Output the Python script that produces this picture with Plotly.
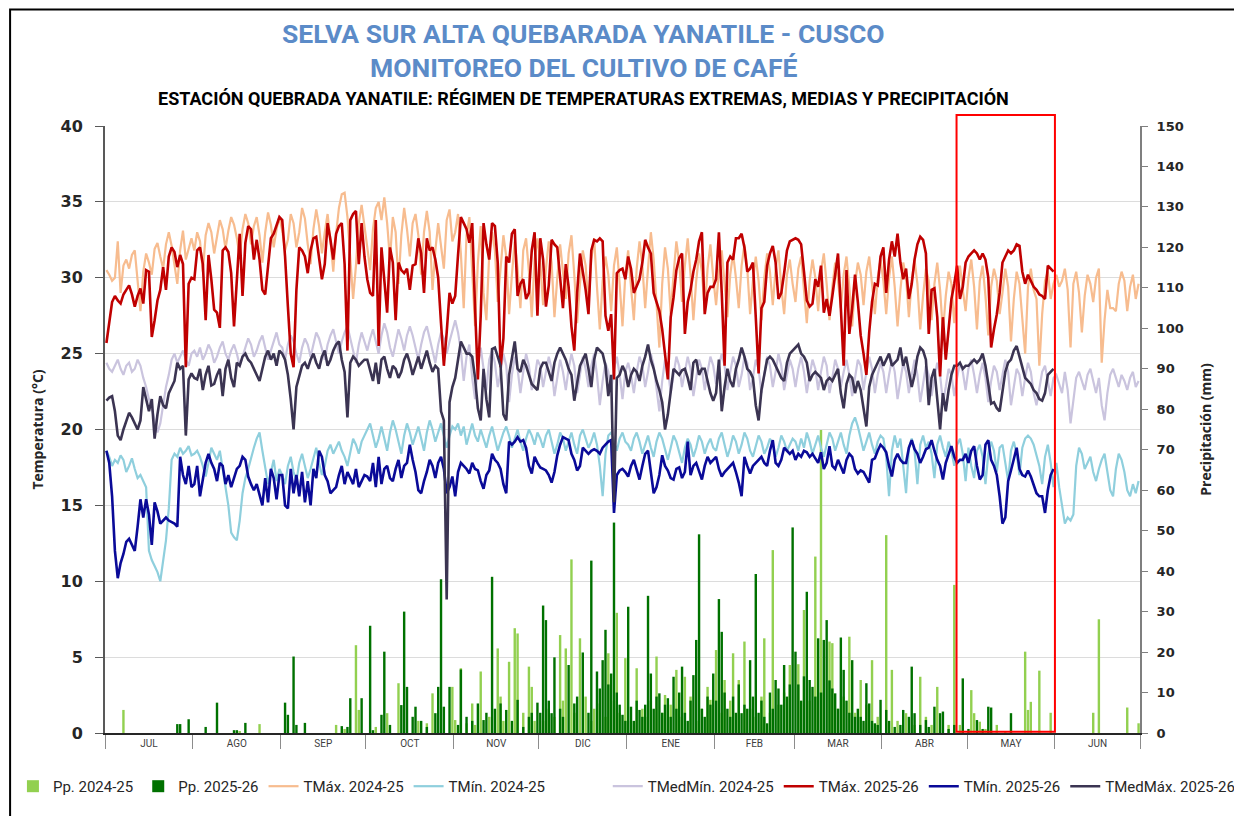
import plotly.graph_objects as go

MESES = ["JUL", "AGO", "SEP", "OCT", "NOV", "DIC", "ENE", "FEB", "MAR", "ABR", "MAY", "JUN"]
DIAS_MES = [31, 31, 30, 31, 30, 31, 31, 28, 31, 30, 31, 30]

# temperaturas diarias campaña 2024-25 (jul -> jun)
TMAX_2425 = [
    30.5, 30.2, 29.8, 30.0, 32.4, 29.0, 30.8, 31.2, 30.6, 31.5, 31.8, 29.7, 27.8, 30.4, 31.6, 31.0, 30.2, 31.9, 32.3, 31.4, 30.6, 32.2, 33.0, 32.1, 30.9, 29.6, 31.8, 33.1, 31.2, 32.0, 32.6,
    31.8, 33.0, 32.4, 30.4, 32.8, 33.6, 33.0, 31.6, 32.7, 33.8, 33.2, 31.9, 33.1, 34.0, 33.5, 32.6, 31.4, 33.2, 34.2, 33.6, 32.2, 33.4, 34.0, 32.8, 31.0, 33.0, 34.3, 33.5, 32.0, 33.2, 34.0,
    33.1, 31.8, 32.5, 34.2, 33.6, 32.0, 33.0, 34.6, 33.9, 32.2, 30.9, 33.2, 34.5, 33.4, 31.6, 33.0, 34.2, 32.5, 30.4, 32.9, 34.6, 35.5, 35.6, 34.0, 31.2, 28.6, 30.8, 33.6, 34.8, 33.2,
    32.0, 30.5, 33.2, 34.6, 35.0, 33.8, 35.3, 33.6, 31.2, 34.0, 33.0, 29.6, 32.8, 34.6, 33.2, 31.4, 33.6, 34.2, 32.8, 30.2, 33.0, 34.4, 33.0, 29.2, 31.8, 33.6, 32.0, 30.6, 33.8, 34.5, 32.4,
    33.0, 34.2, 31.6, 28.0, 32.8, 34.0, 30.2, 26.8, 31.0, 33.4, 29.0, 27.2, 31.6, 33.0, 31.8, 28.4, 30.6, 32.8, 31.4, 27.6, 30.2, 32.4, 30.6, 28.0, 31.8, 32.6, 30.4, 27.4, 31.2, 32.6,
    31.0, 28.2, 30.6, 32.4, 31.0, 27.4, 30.0, 32.2, 30.4, 28.6, 31.6, 32.8, 30.2, 27.0, 29.6, 31.8, 30.8, 28.2, 31.2, 32.6, 29.4, 26.6, 29.8, 31.4, 30.2, 27.8, 30.8, 32.0, 29.6, 26.8, 30.2,
    31.8, 29.4, 27.2, 30.6, 32.4, 30.8, 28.0, 30.6, 33.0, 31.2, 28.4, 25.4, 29.6, 32.0, 30.6, 27.6, 30.2, 32.4, 31.0, 28.4, 30.8, 32.6, 30.2, 27.2, 29.8, 31.6, 30.4, 27.8, 30.6, 32.2, 30.0,
    28.2, 30.4, 31.8, 29.6, 27.4, 30.2, 31.6, 30.0, 28.0, 30.8, 32.2, 30.6, 27.6, 29.8, 31.4, 29.8, 27.2, 30.0, 31.6, 30.4, 28.2, 30.6, 31.8, 29.4, 27.6, 30.2, 31.2, 29.6,
    28.4, 30.6, 31.4, 29.2, 27.0, 29.8, 31.2, 30.0, 27.8, 30.4, 31.6, 29.6, 27.2, 29.4, 31.0, 29.8, 28.0, 30.2, 31.4, 29.4, 26.8, 29.6, 31.0, 30.2, 28.2, 30.4, 31.4, 29.6, 27.6, 30.0, 31.2,
    29.8, 27.6, 30.0, 31.4, 29.4, 26.8, 29.2, 31.0, 30.0, 27.4, 29.8, 31.2, 29.6, 26.6, 28.8, 30.6, 29.8, 27.2, 29.6, 31.0, 29.2, 26.4, 28.8, 30.4, 29.6, 27.0, 29.4, 30.8, 29.2, 27.8,
    30.0, 31.2, 29.4, 26.6, 29.8, 30.8, 28.8, 26.2, 29.4, 30.6, 29.8, 27.6, 29.0, 30.6, 29.4, 25.8, 28.6, 30.4, 29.6, 27.4, 25.0, 29.4, 30.6, 29.2, 28.6, 24.2, 27.6, 29.8, 30.4, 28.6, 29.6,
    30.2, 29.4, 29.8, 30.6, 29.2, 25.4, 29.6, 30.4, 29.0, 26.4, 28.8, 30.2, 29.6, 28.4, 30.0, 30.6, 24.4, 27.2, 29.2, 28.0, 28.0, 27.8, 29.6, 30.4, 29.8, 27.8, 29.4, 30.2, 28.6, 29.6,
]
TMIN_2425 = [
    18.6, 18.2, 17.6, 18.0, 17.8, 18.3, 18.0, 17.2, 17.6, 18.1, 17.4, 16.8, 17.0, 16.6, 16.2, 12.0, 11.4, 11.0, 10.6, 10.0, 11.4, 12.7, 14.8, 18.0, 18.4, 18.2, 18.8, 18.4, 18.6, 18.9, 18.3,
    18.4, 18.6, 18.2, 17.6, 16.9, 17.8, 18.8, 18.4, 18.0, 18.6, 17.4, 16.2, 15.0, 13.2, 12.9, 12.7, 14.0, 15.8, 16.8, 17.4, 18.2, 18.8, 19.4, 19.8, 18.6, 17.6, 16.4, 17.2, 18.0, 16.6, 17.4,
    17.0, 16.4, 17.6, 18.2, 17.2, 16.6, 17.8, 18.4, 17.6, 16.8, 17.4, 18.2, 18.8, 17.8, 17.0, 17.6, 18.6, 19.0, 18.4, 18.8, 19.2, 18.6, 18.2, 17.6, 18.6, 19.4, 19.0, 18.4, 19.2, 19.6,
    20.0, 20.4, 19.6, 18.8, 19.4, 20.2, 19.4, 18.6, 19.8, 20.6, 20.0, 19.2, 18.4, 19.6, 20.4, 19.8, 19.0, 19.6, 20.2, 19.4, 18.6, 19.8, 20.6, 20.0, 19.2, 19.8, 20.4, 19.6, 18.8, 19.6, 20.2,
    20.0, 20.4, 19.6, 20.2, 19.0, 19.8, 20.4, 19.6, 19.2, 20.0, 19.4, 18.8, 19.6, 20.2, 19.4, 18.6, 19.2, 19.8, 20.2, 19.6, 18.8, 19.4, 20.0, 19.2, 18.6, 19.4, 20.0, 19.6, 19.0, 19.8,
    19.4, 18.8, 19.6, 20.0, 19.2, 18.4, 19.0, 19.8, 19.4, 18.6, 19.2, 19.8, 19.0, 18.4, 19.6, 20.0, 19.4, 18.8, 19.2, 19.8, 19.0, 17.6, 15.6, 18.4, 19.6, 19.8, 19.2, 18.6, 19.4, 19.8, 19.2,
    19.0, 18.6, 19.4, 19.8, 19.2, 18.4, 19.0, 19.6, 18.8, 18.2, 19.2, 19.8, 19.4, 18.6, 18.0, 18.8, 19.6, 19.2, 18.4, 17.8, 18.8, 19.4, 19.0, 18.2, 18.8, 19.6, 19.2, 18.4, 19.0, 19.4, 18.8,
    18.6, 19.4, 19.8, 19.0, 18.2, 18.8, 19.6, 19.2, 18.4, 19.0, 19.8, 19.4, 18.6, 18.2, 19.0, 19.6, 19.2, 18.4, 18.8, 19.4, 19.0, 18.2, 18.8, 19.6, 19.2, 18.6, 19.0, 19.4,
    19.2, 18.6, 19.4, 18.8, 19.8, 19.2, 18.4, 19.0, 19.6, 18.8, 18.2, 19.0, 19.8, 19.4, 18.6, 19.2, 19.8, 19.0, 18.4, 19.6, 20.4, 20.8, 20.2, 19.4, 18.6, 19.2, 19.8, 19.0, 18.4, 19.2, 19.6,
    19.4, 18.2, 15.6, 18.6, 19.6, 18.8, 19.4, 17.8, 15.8, 18.8, 19.4, 18.6, 16.4, 19.0, 19.6, 18.8, 19.2, 18.4, 16.8, 19.0, 19.6, 18.8, 18.2, 19.2, 18.6, 17.6, 19.0, 19.4, 18.4, 16.6,
    18.8, 17.6, 16.8, 18.6, 19.0, 18.2, 16.4, 18.4, 19.2, 18.6, 17.2, 18.8, 19.0, 17.8, 16.6, 18.6, 19.2, 18.4, 17.0, 18.8, 19.4, 19.6, 19.4, 19.0, 18.2, 17.6, 16.4, 18.2, 19.0, 17.8, 16.2,
    17.8, 16.2, 15.0, 13.8, 14.2, 14.0, 14.4, 17.6, 18.8, 18.4, 17.4, 17.8, 18.2, 17.2, 16.6, 17.4, 18.0, 18.4, 17.2, 16.0, 15.6, 17.4, 18.4, 18.0, 17.2, 16.0, 15.6, 16.4, 15.8, 16.6,
]
TMEDMIN_2425 = [
    24.4, 24.0, 23.8, 24.2, 24.6, 24.0, 23.6, 24.2, 24.4, 23.8, 24.0, 24.6, 24.2, 23.4, 22.8, 22.0, 21.4, 20.6, 19.8, 20.4, 21.6, 22.8, 23.6, 24.6, 25.0, 24.4, 24.8, 25.2, 24.6, 24.2, 25.0,
    25.2, 24.8, 25.4, 24.6, 25.0, 25.6, 25.2, 24.4, 24.8, 25.4, 25.8, 25.0, 24.6, 25.2, 25.6, 25.0, 24.2, 24.8, 25.4, 26.0, 25.6, 24.8, 25.2, 25.8, 26.2, 25.4, 24.6, 25.2, 25.8, 26.4, 25.6,
    25.4, 24.6, 25.6, 26.2, 25.8, 25.0, 24.4, 25.4, 26.0, 25.6, 24.8, 25.6, 26.4, 26.0, 25.2, 24.6, 25.6, 26.2, 26.6, 25.8, 25.0, 25.8, 26.4, 26.8, 26.0, 25.2, 24.4, 25.6, 26.4, 25.8,
    25.2, 26.0, 26.6, 25.8, 25.0, 26.2, 27.0, 26.4, 25.4, 24.8, 25.8, 26.6, 26.0, 25.2, 26.2, 26.8, 26.2, 25.4, 24.6, 25.6, 26.4, 26.8, 26.0, 25.2, 24.4, 25.6, 26.4, 26.0, 25.0, 25.8, 26.6,
    27.2, 26.4, 25.2, 23.2, 24.8, 25.6, 23.4, 22.0, 24.2, 25.4, 24.0, 22.6, 24.6, 25.2, 24.4, 22.8, 23.8, 25.0, 24.2, 21.8, 23.6, 24.8, 24.0, 22.4, 23.8, 25.0, 24.2, 22.6, 23.4, 24.6,
    24.2, 22.8, 23.8, 24.8, 24.0, 22.2, 23.4, 24.6, 23.8, 22.6, 24.0, 25.0, 24.2, 22.4, 23.6, 24.8, 24.0, 22.8, 24.2, 25.0, 23.6, 21.6, 23.2, 24.4, 23.8, 22.6, 24.0, 24.8, 23.6, 22.0, 23.8,
    24.4, 23.6, 22.4, 23.8, 24.8, 24.2, 22.8, 23.8, 25.0, 24.2, 22.6, 21.2, 23.2, 24.6, 24.0, 22.4, 23.6, 24.8, 24.2, 22.8, 23.8, 24.8, 24.0, 22.2, 23.4, 24.6, 24.0, 22.6, 23.8, 24.8, 24.2,
    23.0, 24.2, 25.0, 24.2, 22.6, 23.8, 24.8, 24.2, 22.8, 23.6, 24.8, 24.4, 22.6, 23.4, 24.6, 24.0, 22.4, 23.6, 24.8, 24.2, 22.8, 23.8, 25.0, 24.2, 22.6, 23.6, 24.6, 24.0,
    22.8, 24.0, 24.8, 23.8, 22.4, 23.6, 24.6, 24.0, 22.6, 23.8, 24.8, 24.2, 22.4, 23.4, 24.6, 24.0, 22.8, 23.8, 24.6, 23.6, 22.2, 23.4, 24.6, 24.2, 22.6, 23.8, 24.8, 24.0, 22.4, 23.6, 24.4,
    23.8, 22.4, 23.6, 24.6, 23.8, 22.0, 23.2, 24.4, 23.8, 22.4, 23.6, 24.6, 23.6, 21.8, 23.0, 24.2, 23.6, 22.2, 23.4, 24.4, 23.6, 21.8, 22.8, 24.0, 23.6, 22.2, 23.4, 24.4, 23.8, 22.6,
    24.0, 24.6, 23.6, 22.4, 23.6, 24.4, 23.4, 21.8, 23.2, 24.2, 23.8, 22.6, 23.6, 24.6, 23.8, 21.6, 22.8, 24.0, 23.6, 22.2, 23.4, 24.4, 23.8, 22.4, 21.6, 22.8, 23.8, 24.2, 23.2, 22.2, 23.4,
    23.6, 23.0, 22.4, 23.8, 22.6, 20.4, 21.8, 23.4, 23.8, 23.2, 22.6, 23.6, 24.0, 23.2, 22.4, 23.4, 21.6, 20.6, 22.4, 23.6, 24.0, 23.4, 22.8, 23.6, 23.2, 22.6, 23.4, 23.8, 22.8, 23.2,
]

# temperaturas diarias campaña 2025-26 (jul -> may)
TMAX_2526 = [
    25.7, 27.2, 28.4, 28.8, 28.5, 28.3, 28.9, 29.2, 29.5, 28.9, 28.1, 28.8, 29.3, 28.3, 30.5, 30.4, 26.1, 27.2, 28.5, 29.2, 30.7, 29.2, 31.4, 32.0, 31.7, 30.7, 31.5, 30.9, 24.1, 29.6, 30.0,
    29.9, 31.8, 32.0, 30.9, 27.2, 31.5, 29.9, 27.9, 27.7, 26.7, 31.8, 32.0, 31.7, 30.3, 26.8, 29.9, 32.9, 28.8, 32.3, 33.4, 33.2, 31.2, 32.5, 31.2, 29.2, 28.9, 30.9, 32.6, 32.9, 33.4, 34.0,
    33.8, 31.4, 28.1, 25.0, 24.1, 29.2, 32.0, 31.8, 31.4, 30.3, 31.8, 32.6, 32.7, 31.2, 29.9, 30.9, 33.6, 32.5, 31.2, 32.9, 33.4, 33.6, 30.9, 25.2, 33.8, 34.2, 34.4, 30.9, 33.6, 31.4,
    29.9, 29.0, 28.8, 33.8, 25.5, 32.0, 30.0, 27.7, 32.0, 31.0, 27.2, 31.0, 30.5, 30.3, 30.6, 29.2, 30.8, 30.9, 32.6, 31.6, 29.0, 32.6, 31.8, 32.0, 31.2, 30.0, 27.0, 24.2, 26.4, 29.0, 28.3,
    28.8, 31.5, 34.0, 33.6, 33.2, 32.3, 33.6, 28.0, 23.3, 27.5, 33.6, 32.2, 31.2, 33.6, 33.4, 31.0, 24.1, 26.0, 31.4, 31.0, 32.9, 33.2, 28.8, 29.6, 29.9, 28.6, 29.0, 31.8, 33.0, 27.5,
    32.6, 31.2, 28.1, 29.5, 32.5, 32.2, 32.0, 30.0, 28.0, 30.9, 29.4, 26.8, 25.2, 29.0, 31.6, 30.4, 29.2, 27.6, 31.8, 32.5, 32.4, 32.6, 32.4, 27.5, 26.5, 27.6, 23.3, 30.3, 30.5, 30.6, 29.9,
    31.4, 30.6, 29.0, 29.4, 29.9, 31.0, 32.5, 32.0, 31.6, 29.0, 28.4, 27.8, 26.6, 25.0, 23.3, 27.4, 28.7, 30.5, 31.3, 31.6, 26.3, 28.4, 29.2, 30.4, 31.2, 32.4, 33.0, 27.6, 29.0, 29.4, 29.4,
    29.9, 33.0, 29.0, 24.2, 31.0, 31.4, 31.2, 32.6, 32.6, 32.9, 32.0, 30.4, 30.6, 31.0, 27.4, 23.7, 28.0, 28.4, 30.8, 31.6, 32.1, 31.0, 28.6, 29.0, 30.3, 31.8, 32.4, 32.5,
    32.6, 32.5, 32.2, 30.4, 28.5, 28.1, 28.3, 29.9, 29.4, 30.8, 27.7, 28.6, 27.5, 28.8, 30.4, 31.6, 28.0, 24.2, 30.5, 26.3, 28.0, 30.2, 28.4, 26.2, 25.0, 23.6, 26.4, 28.4, 29.6, 29.5, 31.4,
    32.0, 29.0, 31.2, 32.4, 31.4, 32.9, 31.0, 29.9, 30.6, 28.6, 29.6, 31.2, 32.2, 32.7, 32.5, 31.6, 26.3, 29.2, 29.3, 27.4, 23.5, 27.4, 24.6, 26.6, 28.6, 29.6, 30.8, 28.6, 29.4, 31.0,
    31.4, 31.6, 31.8, 31.6, 31.2, 31.6, 31.2, 30.0, 25.4, 26.6, 27.6, 29.0, 31.0, 31.4, 31.8, 31.6, 31.8, 32.2, 32.1, 30.4, 29.6, 30.2, 29.8, 29.4, 29.2, 28.9, 28.8, 28.6, 30.8, 30.6, 30.4,
]
TMIN_2526 = [
    18.6, 17.8, 15.6, 12.0, 10.2, 11.2, 11.8, 12.6, 12.8, 12.4, 12.0, 13.6, 15.4, 14.2, 15.4, 14.4, 12.4, 15.2, 14.6, 13.8, 14.0, 14.2, 14.0, 13.9, 13.8, 13.6, 18.2, 17.0, 16.4, 17.6, 16.2,
    16.4, 17.6, 15.6, 16.8, 17.8, 18.4, 17.8, 17.4, 16.6, 17.8, 17.6, 16.4, 17.0, 16.2, 16.8, 17.4, 17.6, 18.2, 18.0, 16.9, 16.4, 16.0, 16.4, 15.6, 15.0, 16.8, 15.2, 17.4, 16.8, 15.4, 17.0,
    17.0, 15.0, 14.8, 17.4, 15.8, 17.0, 15.6, 17.2, 15.2, 16.6, 15.0, 17.4, 16.8, 18.6, 18.2, 17.0, 16.6, 15.8, 16.0, 16.2, 17.0, 17.6, 16.4, 17.2, 16.8, 16.4, 17.4, 16.2, 16.6, 17.0,
    16.9, 16.6, 17.8, 16.2, 18.2, 16.4, 17.4, 17.6, 16.8, 16.6, 17.4, 18.0, 16.8, 17.6, 17.8, 19.0, 18.0, 17.2, 16.0, 15.8, 16.6, 17.2, 18.0, 17.6, 16.8, 17.8, 18.2, 17.4, 15.8, 16.2, 16.9,
    15.6, 17.2, 17.8, 17.6, 17.4, 17.1, 17.8, 17.4, 17.3, 16.6, 16.1, 17.0, 17.3, 18.4, 18.0, 17.8, 17.4, 16.4, 15.8, 19.2, 19.0, 19.2, 19.5, 19.2, 19.3, 18.8, 17.6, 17.1, 18.2, 17.8,
    17.5, 17.4, 17.3, 17.0, 16.5, 17.2, 18.3, 19.0, 19.5, 19.4, 19.3, 18.4, 18.0, 17.3, 17.6, 18.8, 18.6, 18.4, 18.6, 18.7, 18.6, 18.4, 18.8, 19.0, 19.2, 19.3, 14.5, 17.0, 17.3, 17.4, 17.2,
    16.9, 17.6, 18.0, 17.4, 16.7, 17.6, 18.4, 18.6, 17.0, 15.8, 16.2, 17.0, 18.3, 17.6, 17.3, 16.8, 16.7, 17.4, 17.5, 16.8, 17.2, 19.2, 17.0, 17.6, 17.8, 17.2, 16.7, 17.6, 18.2, 17.8, 18.0,
    18.2, 17.4, 16.9, 17.2, 17.4, 17.6, 17.8, 17.2, 16.5, 15.6, 18.2, 17.6, 17.1, 17.6, 17.8, 18.0, 18.2, 17.8, 17.6, 18.6, 19.3, 17.8, 17.6, 18.0, 18.8, 18.6, 18.4, 18.6,
    18.0, 18.4, 18.2, 18.6, 18.5, 18.2, 18.4, 18.1, 17.8, 18.5, 17.4, 17.8, 18.9, 17.6, 17.4, 18.0, 17.6, 17.1, 18.0, 18.4, 18.2, 17.4, 17.1, 17.3, 17.2, 16.8, 16.5, 18.0, 18.1, 18.6, 19.0,
    18.8, 18.5, 17.6, 16.9, 18.0, 18.4, 18.0, 17.8, 17.8, 18.8, 19.3, 18.7, 18.4, 17.8, 18.2, 18.7, 18.8, 19.3, 18.6, 18.0, 17.6, 16.7, 17.8, 18.4, 18.9, 18.2, 17.8, 18.0, 18.0, 18.4,
    17.8, 18.6, 18.9, 17.6, 16.7, 17.0, 19.0, 19.3, 18.0, 17.6, 17.0, 15.6, 13.8, 14.2, 16.6, 17.3, 18.0, 18.8, 17.4, 17.0, 16.9, 17.3, 16.9, 16.4, 15.8, 15.6, 15.6, 14.5, 16.0, 17.0, 17.4,
]
TMEDMAX_2526 = [
    21.9, 22.1, 22.2, 21.2, 19.6, 19.3, 20.0, 20.6, 21.1, 20.8, 20.4, 20.0, 20.6, 22.8, 22.0, 21.2, 22.0, 19.4, 21.0, 22.2, 21.6, 21.4, 22.4, 22.8, 23.2, 24.4, 24.0, 24.2, 19.6, 23.3, 23.7,
    23.4, 23.3, 24.0, 22.6, 23.6, 24.2, 22.9, 23.0, 23.6, 24.0, 22.2, 24.0, 24.6, 23.4, 22.8, 24.4, 24.2, 24.8, 25.0, 24.6, 24.4, 24.0, 23.6, 23.2, 24.0, 24.8, 25.2, 24.6, 25.0, 24.2, 25.2,
    25.0, 24.6, 23.6, 22.0, 20.0, 22.8, 23.6, 24.2, 24.4, 24.0, 24.6, 25.0, 24.4, 24.0, 24.8, 25.2, 24.2, 24.6, 25.2, 25.6, 25.8, 24.6, 23.8, 20.8, 24.4, 24.8, 24.6, 24.2, 24.4, 24.6,
    24.6, 23.8, 23.2, 24.4, 23.0, 24.6, 24.8, 24.0, 23.4, 24.2, 24.0, 23.4, 23.8, 24.6, 25.0, 24.4, 23.6, 24.2, 24.8, 24.0, 24.6, 25.2, 24.4, 23.8, 24.2, 24.0, 21.2, 20.6, 8.8, 21.8, 22.8,
    23.4, 24.6, 25.8, 25.4, 25.0, 25.0, 24.8, 23.4, 21.4, 20.6, 24.0, 22.0, 20.8, 25.3, 25.4, 24.8, 24.2, 21.0, 20.6, 23.6, 24.6, 25.8, 24.0, 23.8, 24.6, 24.2, 23.6, 23.0, 22.8, 22.6,
    24.0, 24.4, 24.4, 23.8, 23.2, 24.4, 25.0, 25.4, 25.0, 24.6, 24.0, 23.6, 21.9, 23.0, 24.2, 24.6, 25.0, 24.0, 22.8, 24.6, 25.4, 25.2, 25.0, 24.2, 22.2, 23.6, 15.2, 23.4, 23.6, 24.2, 23.8,
    22.8, 23.6, 24.0, 23.8, 23.2, 24.2, 24.8, 25.6, 24.6, 24.0, 23.2, 22.6, 21.8, 20.0, 21.0, 22.6, 24.0, 23.8, 23.6, 23.9, 24.0, 23.4, 22.6, 24.4, 24.6, 23.6, 24.0, 24.0, 23.2, 22.4, 21.9,
    22.4, 24.6, 21.2, 22.8, 24.0, 23.2, 22.8, 24.0, 24.6, 25.4, 24.8, 24.0, 23.8, 23.4, 21.6, 20.6, 22.6, 23.6, 24.6, 24.8, 24.6, 24.2, 23.8, 23.4, 23.2, 24.4, 25.0, 25.2,
    25.4, 25.6, 25.0, 24.8, 24.4, 23.2, 23.6, 23.8, 23.6, 23.4, 22.6, 23.2, 23.4, 23.2, 23.6, 24.0, 22.4, 21.4, 23.0, 23.6, 23.4, 22.4, 23.2, 22.6, 21.4, 20.2, 22.8, 23.6, 24.0, 24.4, 24.8,
    24.2, 24.6, 25.0, 24.2, 24.4, 24.6, 25.4, 24.2, 24.8, 23.8, 22.8, 23.6, 24.8, 25.4, 25.2, 24.6, 21.6, 23.4, 24.0, 22.0, 20.0, 22.4, 21.2, 22.6, 23.6, 24.2, 24.2, 24.4, 24.0, 24.2,
    24.2, 24.4, 24.6, 24.4, 24.6, 25.0, 24.2, 23.0, 21.7, 21.8, 21.4, 21.2, 22.4, 23.8, 24.4, 24.6, 25.2, 25.5, 24.8, 24.0, 23.4, 23.2, 23.0, 22.6, 22.4, 22.0, 21.9, 22.4, 23.6, 23.8, 24.0,
]

# precipitación diaria (mm)
PP_2425 = [
    0, 0, 0, 0, 0, 0, 5.7, 0, 0, 0, 0, 0, 0, 0, 0, 0, 0, 0, 0, 0, 0, 0, 0, 0, 0, 0, 0, 0, 0, 0, 0,
    0, 0, 0, 0, 0, 0, 0, 0, 0, 0, 0, 0, 0, 0, 0, 0, 0.5, 0, 0, 0, 0, 0, 0, 2.2, 0, 0, 0, 0, 0, 0, 0,
    0, 0, 0, 0, 0, 0, 0, 0, 0, 0, 0, 0, 0, 0, 0, 0, 0, 0, 0, 2.0, 0, 0, 1.0, 0, 0, 0, 21.7, 5.7, 0, 0,
    0, 0, 0, 1.5, 0, 0, 0, 4.9, 0, 0, 0, 12.3, 0, 0, 0, 0, 0, 0, 3.0, 0, 0, 2.4, 0, 9.8, 0, 0, 0, 0, 0, 0, 11.4,
    3.2, 0, 16.0, 0, 2.4, 0, 7.3, 2.0, 0, 15.2, 0, 0, 4.0, 0, 0, 20.9, 9.0, 3.0, 0, 17.6, 0, 25.9, 24.6, 0, 5.0, 0, 16.4, 11.4, 3.0, 0,
    0, 3, 0, 6, 0, 4, 0, 24.2, 8, 20.9, 0, 42.9, 5, 0, 23.4, 0, 9, 0, 3, 6, 0, 7.3, 0, 4, 19.7, 0, 8, 29.7, 5, 0, 18.5,
    0, 3, 0, 16.0, 0, 6, 4.0, 0, 8, 0, 18.9, 0, 5, 9.4, 0, 7, 0, 15.6, 4, 0, 13.9, 0, 9, 0, 3, 0, 6, 0, 11.4, 8.2, 0,
    20.5, 0, 5, 13.1, 0, 8, 19.7, 0, 13.1, 0, 22.6, 0, 6, 0, 4, 0, 9, 23.4, 0, 5, 45.2, 0, 7, 0, 10, 0, 16.8, 0,
    0, 17.0, 0, 30.4, 0, 8, 0, 43.6, 0, 74.9, 10, 0, 22.6, 22.2, 0, 6, 0, 9, 0, 23.8, 0, 5, 0, 13.1, 0, 7, 0, 18.0, 0, 4, 0,
    0, 48.9, 0, 15.6, 0, 3, 0, 0, 4.9, 0, 0, 2, 0, 13.9, 0, 4, 0, 2.0, 0, 11.4, 0, 0, 0, 2.0, 0, 36.6, 0, 2, 0, 0,
    0, 10.6, 4.9, 0, 2.8, 0, 1, 0, 0, 0, 2.0, 0, 0, 0.5, 0, 0, 0, 0, 0, 0, 20.1, 5.7, 7.7, 0, 0, 15.4, 0, 0, 0, 5.0, 0,
    0, 0, 0, 0, 0, 0, 0, 0, 0, 0, 0, 0, 0, 5.0, 0, 28.1, 0, 0, 0, 0, 0, 0, 0, 0, 0, 6.3, 0, 0, 0, 2.4,
]
PP_2526 = [
    0, 0, 0, 0, 0, 0, 0, 0, 0, 0, 0, 0, 0, 0, 0, 0, 0, 0, 0, 0, 0, 0, 0, 0, 0, 2.2, 2.2, 0, 0, 3.4, 0,
    0, 0, 0, 0, 1.5, 0, 0, 0, 7.5, 0, 0, 0, 0, 0, 0.7, 0.7, 0, 0, 2.5, 0, 0, 0, 0, 0, 0, 0, 0, 0, 0, 0, 0,
    0, 7.5, 4.5, 0, 18.9, 2.0, 0, 0, 2.5, 0, 0, 0, 0, 0, 0, 0, 0, 0, 0, 0, 0, 1.7, 0, 1.5, 8.6, 0, 0, 0, 8.6, 0,
    0, 26.5, 0.7, 0, 0, 4.5, 20.1, 0, 2, 0, 0, 0, 6.9, 30.0, 11.4, 0, 4.0, 6.5, 0, 3, 0, 1.5, 0, 0, 4.9, 11.4, 38.0, 6.5, 0, 11.4, 0,
    0, 2, 15.7, 0, 4, 0, 3, 0, 7.3, 0, 3.2, 5, 0, 38.6, 6, 0, 7.3, 0, 5.7, 0, 3, 0, 8.2, 0, 1.5, 0, 4.0, 5, 0, 7.5,
    5, 31.5, 27.9, 8, 4.9, 18.7, 0, 6, 4, 0, 16.8, 0, 7.3, 9, 0, 19.9, 0, 5, 42.6, 0, 15.2, 11, 18.0, 25.5, 12, 14.7, 52.0, 10, 7, 4.5, 3,
    31.2, 6.5, 3, 8, 5.7, 4, 7, 33.9, 14.7, 6, 9, 9.8, 5, 7, 8.6, 4, 13.9, 6, 10, 16.4, 5, 3, 8, 14.3, 23.0, 49.1, 6, 4, 9, 7, 14.7,
    8, 33.1, 25.0, 10, 6, 4, 9, 5, 12, 4.9, 7, 6, 18.0, 9, 39.3, 5, 8, 4, 2.4, 10, 6, 13.1, 11, 7, 16.8, 9, 12, 50.8,
    20.1, 12, 8, 14, 34.9, 13.1, 11.4, 9, 23.4, 10, 23.0, 27.9, 13, 11, 9.8, 6, 23.6, 15.6, 8, 5, 18.0, 4.0, 6, 4, 3, 12.3, 7.3, 3, 2.4, 2, 8.2,
    0, 5.7, 3, 0, 1.5, 0, 2, 5.7, 0, 4, 16.4, 4.9, 0, 2, 0, 3.2, 1.5, 0, 6.5, 0, 4.9, 5.3, 0, 1, 0, 2, 0, 0, 13.5, 0,
    1, 0, 0, 3.2, 0, 1, 0, 6.5, 6.3, 0, 0, 0, 0, 0, 0, 4.9, 0, 0, 0, 0, 0, 0, 0, 0, 0, 0, 0, 0, 0, 0, 0,
]

FONT = "Roboto, Arial, sans-serif"

# posiciones de meses en el eje de días
limites = [-0.5]
for d in DIAS_MES:
    limites.append(limites[-1] + d)
centros = [(limites[i] + limites[i + 1]) / 2 for i in range(12)]


def dias(serie):
    return list(range(len(serie)))


fig = go.Figure()
fig.add_trace(go.Bar(x=dias(PP_2425), y=PP_2425, name="Pp. 2024-25", marker_color="#92D050",
                     marker_line_width=0, width=0.85, yaxis="y", legend="legend"))
fig.add_trace(go.Bar(x=dias(PP_2526), y=PP_2526, name="Pp. 2025-26", marker_color="#007100",
                     marker_line_width=0, width=0.85, yaxis="y", legend="legend"))

lineas = [
    (TMAX_2425, "TMáx. 2024-25", "#F7BC8F", 2.2, "legend"),
    (TMIN_2425, "TMín. 2024-25", "#8FCFDD", 2.2, "legend"),
    (TMEDMIN_2425, "TMedMín. 2024-25", "#CAC4DE", 2.2, "legend2"),
    (TMAX_2526, "TMáx. 2025-26", "#C00000", 2.6, "legend2"),
    (TMIN_2526, "TMín. 2025-26", "#0A0A98", 2.6, "legend2"),
    (TMEDMAX_2526, "TMedMáx. 2025-26", "#3B3452", 2.6, "legend2"),
]
for serie, nombre, color, ancho, ley in lineas:
    fig.add_trace(go.Scatter(x=dias(serie), y=serie, name=nombre, mode="lines",
                             line=dict(color=color, width=ancho), yaxis="y2", legend=ley))

leyenda = dict(orientation="h", xref="container", yref="container", y=0.057, yanchor="top",
               font=dict(family=FONT, size=15, color="#262626"), itemwidth=30,
               traceorder="normal", bgcolor="rgba(0,0,0,0)")

# la página deja 8 px de margen: figura algo más pequeña para que el área de trazado coincida
fig.update_layout(
    width=1234, height=808,
    paper_bgcolor="white", plot_bgcolor="white",
    margin=dict(l=97, r=102, t=118, b=83, autoexpand=False),
    barmode="overlay",
    showlegend=True,
    font=dict(family=FONT, color="#262626"),
    xaxis=dict(
        range=[-0.5, 364.5], tickmode="array", tickvals=centros, ticktext=MESES,
        ticks="", tickfont=dict(family=FONT, size=10, color="#404040"),
        showgrid=False, zeroline=False, showline=True, linecolor="#262626", linewidth=1.5,
        automargin=False,
        minor=dict(tickmode="array", tickvals=limites, ticks="outside", ticklen=14,
                   tickcolor="#8c8c8c", tickwidth=1, showgrid=False),
    ),
    yaxis=dict(
        range=[0, 150], dtick=10, side="right", showgrid=False, zeroline=False,
        showline=True, linecolor="#7f7f7f", linewidth=2, ticks="outside", ticklen=6,
        tickcolor="#7f7f7f", automargin=False, ticklabelstandoff=6,
        tickfont=dict(family="DejaVu Sans", size=13, color="#262626", weight="bold"),
        title=dict(text="Precipitación (mm)", standoff=18,
                   font=dict(family="Open Sans", size=14, color="#262626", weight="bold")),
    ),
    yaxis2=dict(
        range=[0, 40], dtick=5, side="left", overlaying="y", showgrid=True,
        gridcolor="#DCDCDC", gridwidth=1, zeroline=False, automargin=False,
        showline=True, linecolor="#595959", linewidth=2, ticks="outside", ticklen=8,
        tickcolor="#595959", ticklabelstandoff=9,
        tickfont=dict(family="DejaVu Sans", size=16, color="#262626", weight="bold"),
        title=dict(text="Temperatura (°C)", standoff=14,
                   font=dict(family="Open Sans", size=14, color="#262626", weight="bold")),
    ),
    legend=dict(leyenda, x=0.004, xanchor="left"),
    legend2=dict(leyenda, x=0.999, xanchor="right"),
)

titulos = [
    ("<b>SELVA SUR ALTA QUEBARADA YANATILE - CUSCO</b>", 1.153, 26.5, "#5B8BC8"),
    ("<b>MONITOREO DEL CULTIVO DE CAFÉ</b>", 1.097, 26.5, "#5B8BC8"),
    ("<b>ESTACIÓN QUEBRADA YANATILE: RÉGIMEN DE TEMPERATURAS EXTREMAS, MEDIAS Y PRECIPITACIÓN</b>", 1.046, 18, "#000000"),
]
for texto, ypos, tam, color in titulos:
    fig.add_annotation(text=texto, xref="paper", yref="paper", x=0.462, y=ypos,
                       xanchor="center", yanchor="middle", showarrow=False,
                       font=dict(family=FONT, size=tam, color=color))

# recuadro rojo sobre mayo
fig.add_shape(type="rect", xref="x", yref="paper", x0=299.8, x1=334.5, y0=0.002, y1=1.018,
              line=dict(color="#FF0000", width=2), fillcolor="rgba(0,0,0,0)")
# marco exterior
fig.add_shape(type="rect", xref="paper", yref="paper", x0=-0.0917, x1=1.0937, y0=-0.2, y1=1.192,
              line=dict(color="#000000", width=2), fillcolor="rgba(0,0,0,0)", layer="above")

fig.write_html("out.html")
